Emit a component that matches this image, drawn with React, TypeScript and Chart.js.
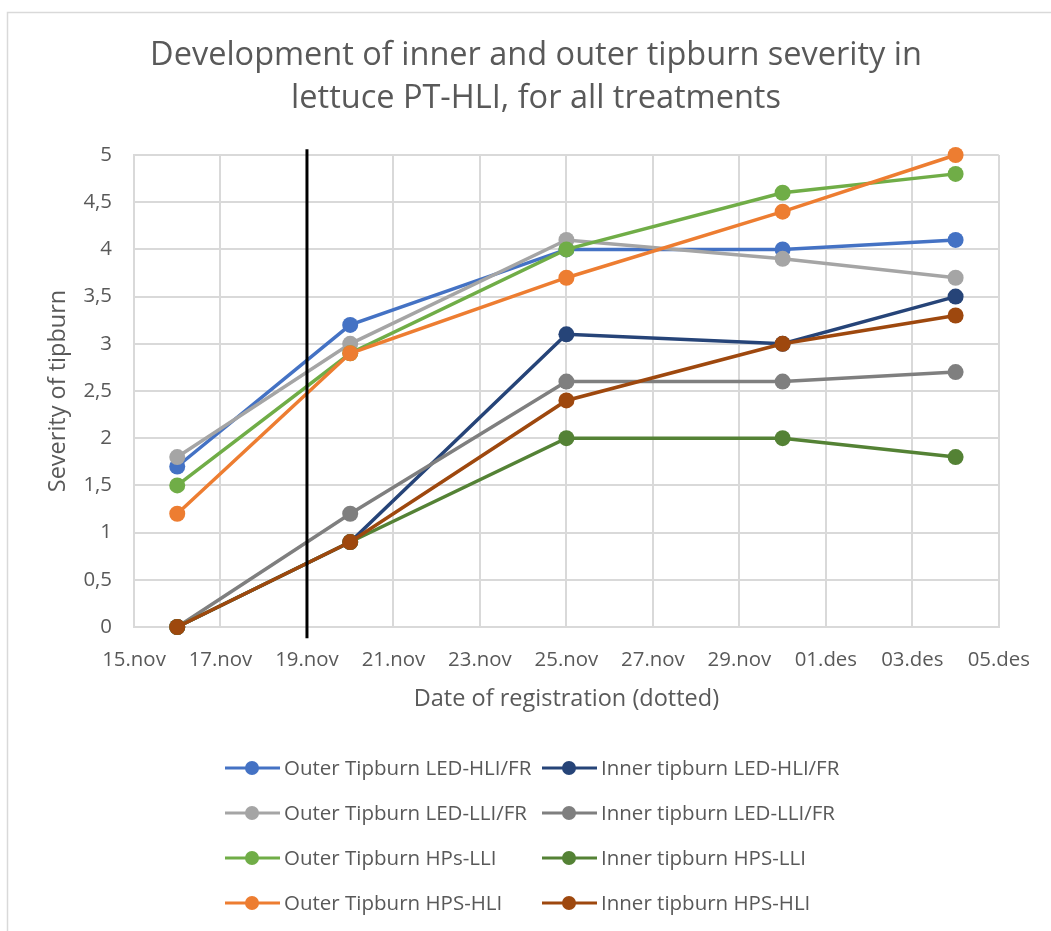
import React, { useEffect, useRef } from 'react';
import { Chart, registerables } from 'chart.js';

Chart.register(...registerables);

const TITLE_LINES = ['Development of inner and outer tipburn severity in', 'lettuce PT-HLI, for all treatments'];
const Y_TITLE = 'Severity of tipburn';
const X_TITLE = 'Date of registration (dotted)';

const dates = ['16.nov', '20.nov', '25.nov', '30.nov', '04.des'];
const xTickLabels = ['15.nov', '17.nov', '19.nov', '21.nov', '23.nov', '25.nov', '27.nov', '29.nov', '01.des', '03.des', '05.des'];
const yTickLabels = ['0', '0,5', '1', '1,5', '2', '2,5', '3', '3,5', '4', '4,5', '5'];
const markerDate = '19.nov';
const markerRange = [-0.12, 5.06];

const seriesNames = [
  'Outer Tipburn LED-HLI/FR',
  'Inner tipburn LED-HLI/FR',
  'Outer Tipburn LED-LLI/FR',
  'Inner tipburn LED-LLI/FR',
  'Outer Tipburn HPs-LLI',
  'Inner tipburn HPS-LLI',
  'Outer Tipburn HPS-HLI',
  'Inner tipburn HPS-HLI',
];
const seriesColors = ['#4472C4', '#264478', '#A5A5A5', '#7F7F7F', '#70AD47', '#548235', '#ED7D31', '#9E480E'];

const outerLedHli = [1.7, 3.2, 4.0, 4.0, 4.1];
const innerLedHli = [0, 0.9, 3.1, 3.0, 3.5];
const outerLedLli = [1.8, 3.0, 4.1, 3.9, 3.7];
const innerLedLli = [0, 1.2, 2.6, 2.6, 2.7];
const outerHpsLli = [1.5, 2.9, 4.0, 4.6, 4.8];
const innerHpsLli = [0, 0.9, 2.0, 2.0, 1.8];
const outerHpsHli = [1.2, 2.9, 3.7, 4.4, 5.0];
const innerHpsHli = [0, 0.9, 2.4, 3.0, 3.3];

const seriesValues = [outerLedHli, innerLedHli, outerLedLli, innerLedLli, outerHpsLli, innerHpsLli, outerHpsHli, innerHpsHli];

const FONT = '"Open Sans", "Noto Sans", sans-serif';
const TEXT = '#595959';
const GRID = '#d9d9d9';

function dayIndex(label: string): number {
  const [d, m] = label.split('.');
  const day = parseInt(d, 10);
  return m === 'nov' ? day - 15 : 15 + day;
}

const W = 1051;
const H = 931;
const PLOT_LEFT = 134;
const PLOT_RIGHT = 1001;
const PLOT_TOP = 155;
const PLOT_BOTTOM = 627;
const X_AXIS_H = 100;

const legendCols = [225, 542];
const legendRows = [768, 813, 858, 903];

const overlayPlugin = {
  id: 'overlay',
  afterDraw(chart: any) {
    const ctx = chart.ctx as CanvasRenderingContext2D;
    ctx.save();
    // frame
    ctx.strokeStyle = GRID;
    ctx.lineWidth = 1.5;
    ctx.beginPath();
    ctx.moveTo(7.5, H);
    ctx.lineTo(7.5, 12.5);
    ctx.lineTo(W, 12.5);
    ctx.stroke();
    // title
    ctx.fillStyle = TEXT;
    ctx.font = `32.5px ${FONT}`;
    ctx.textAlign = 'center';
    ctx.textBaseline = 'middle';
    ctx.fillText(TITLE_LINES[0], 536, 56);
    ctx.fillText(TITLE_LINES[1], 536, 99);
    // legend
    ctx.font = `20.5px ${FONT}`;
    ctx.textAlign = 'left';
    seriesNames.forEach((name, i) => {
      const row = Math.floor(i / 2);
      const col = i % 2;
      const x = legendCols[col];
      const y = legendRows[row];
      ctx.strokeStyle = seriesColors[i];
      ctx.lineWidth = 3;
      ctx.beginPath();
      ctx.moveTo(x, y);
      ctx.lineTo(x + 55, y);
      ctx.stroke();
      ctx.fillStyle = seriesColors[i];
      ctx.beginPath();
      ctx.arc(x + 27, y, 7, 0, Math.PI * 2);
      ctx.fill();
      ctx.fillStyle = TEXT;
      ctx.fillText(name, x + 59, y + 1);
    });
    ctx.restore();
  },
};

export default function App() {
  const ref = useRef<HTMLCanvasElement>(null);
  useEffect(() => {
    if (!ref.current) return;
    const xs = dates.map(dayIndex);
    const datasets: any[] = seriesNames.map((name, i) => ({
      label: name,
      data: seriesValues[i].map((v, k) => ({ x: xs[k], y: v })),
      borderColor: seriesColors[i],
      backgroundColor: seriesColors[i],
      borderWidth: 3.5,
      pointRadius: 8,
      pointBorderWidth: 0,
      pointBackgroundColor: seriesColors[i],
      order: seriesNames.length - i,
      clip: false,
    }));
    datasets.push({
      label: 'marker',
      data: markerRange.map((y) => ({ x: dayIndex(markerDate), y })),
      borderColor: '#000000',
      borderWidth: 3,
      pointRadius: 0,
      order: -1,
      clip: false,
    });
    const chart = new Chart(ref.current, {
      type: 'line',
      data: { datasets },
      options: {
        responsive: false,
        animation: false,
        devicePixelRatio: 1,
        layout: {
          padding: { left: 0, right: W - PLOT_RIGHT, top: PLOT_TOP, bottom: H - PLOT_BOTTOM - X_AXIS_H },
        },
        plugins: { legend: { display: false }, title: { display: false }, tooltip: { enabled: false } },
        scales: {
          x: {
            type: 'linear',
            min: 0,
            max: 20,
            afterFit: (s: any) => { s.height = X_AXIS_H; },
            ticks: {
              stepSize: 2,
              autoSkip: false,
              maxRotation: 0,
              padding: 21,
              color: TEXT,
              font: { family: FONT, size: 20.4 },
              callback: (v: any) => xTickLabels[Math.round(Number(v) / 2)],
            },
            grid: { color: GRID, lineWidth: 2, drawTicks: false },
            border: { color: GRID, width: 2 },
            title: {
              display: true,
              text: X_TITLE,
              color: TEXT,
              font: { family: FONT, size: 23.5 },
              padding: { top: 0, bottom: 14 },
            },
          },
          y: {
            type: 'linear',
            min: 0,
            max: 5,
            afterFit: (s: any) => { s.width = PLOT_LEFT; },
            ticks: {
              stepSize: 0.5,
              padding: 22,
              color: TEXT,
              font: { family: FONT, size: 20.4 },
              callback: (v: any) => yTickLabels[Math.round(Number(v) * 2)],
            },
            grid: { color: GRID, lineWidth: 2, drawTicks: false },
            border: { color: GRID, width: 2 },
            title: {
              display: true,
              text: Y_TITLE,
              color: TEXT,
              font: { family: FONT, size: 23.5 },
              padding: { top: 44, bottom: 0 },
            },
          },
        },
      },
      plugins: [overlayPlugin],
    });
    return () => chart.destroy();
  }, []);
  return (
    <div style={{ position: 'fixed', left: 0, top: 0, width: W, height: H, background: '#fff' }}>
      <canvas ref={ref} width={W} height={H} style={{ display: 'block' }} />
    </div>
  );
}
